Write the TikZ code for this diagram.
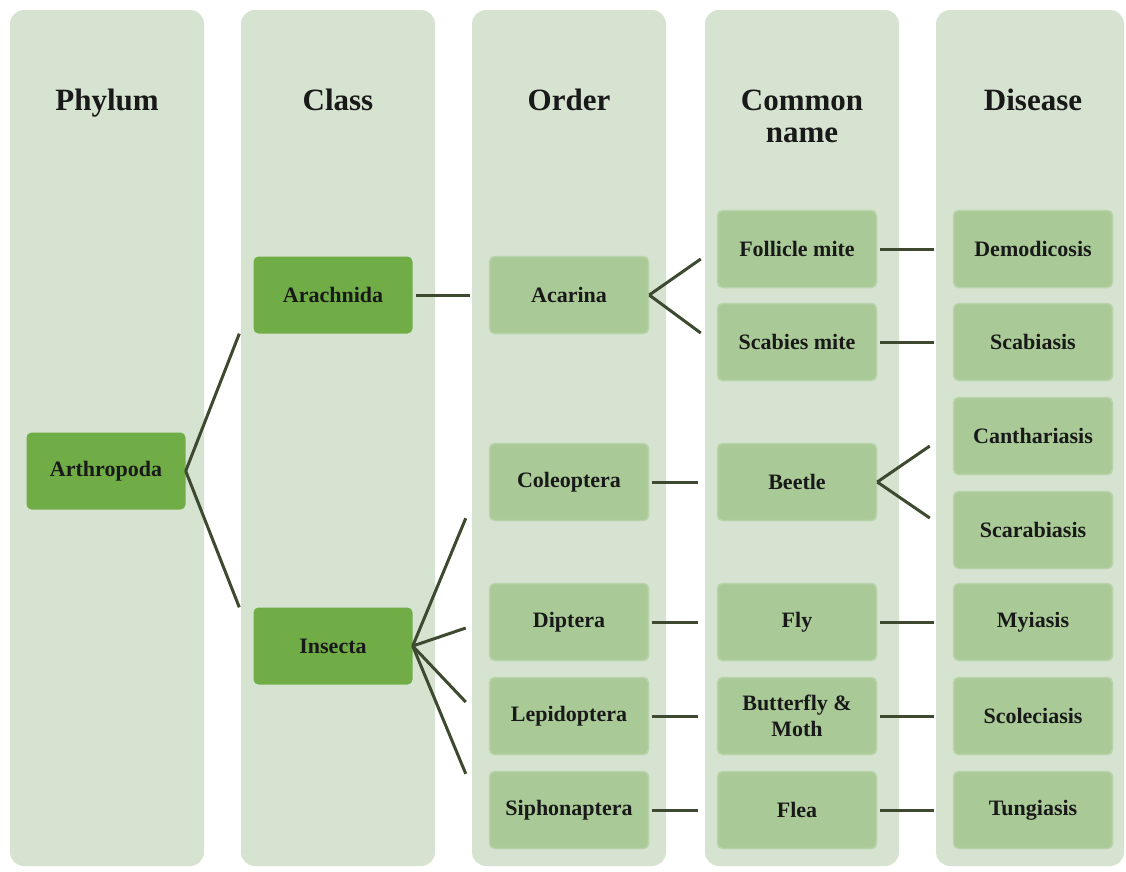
\documentclass[tikz,border=0pt]{standalone}
\usepackage{fontspec}
\setmainfont{Liberation Serif}
\usepackage{tikz}
\usetikzlibrary{positioning}

\definecolor{colbg}{HTML}{D6E3D0}
\definecolor{darkleaf}{HTML}{70AD47}
\definecolor{paleleaf}{HTML}{A9CA97}
\definecolor{paleedge}{HTML}{B9D3AB}
\definecolor{stem}{HTML}{3D4A30}

\begin{document}
\begin{tikzpicture}[
    x=1pt, y=-1pt,
    column/.style={rectangle, fill=colbg, rounded corners=14pt, minimum width=194pt, minimum height=856pt, inner sep=0pt},
    header/.style={font=\fontsize{31}{32}\selectfont\bfseries, text=black!90, align=center},
    taxon/.style={rectangle, fill=darkleaf, rounded corners=5pt, minimum width=159pt, minimum height=77pt, inner sep=2pt, font=\fontsize{22}{26}\selectfont\bfseries, text=black!90, align=center},
    leaf/.style={taxon, fill=paleleaf, draw=paleedge, line width=1.5pt},
    link/.style={draw=stem, line width=3pt},
    pair/.style={link, shorten <=3pt, shorten >=19pt}
]

% Canvas
\useasboundingbox[fill=white] (0,0) rectangle (1126,871);

% Column backgrounds
\node[column] (col_phylum)  at (107,438)  {};
\node[column] (col_class)   at (338,438)  {};
\node[column] (col_order)   at (569,438)  {};
\node[column] (col_common)  at (802,438)  {};
\node[column, minimum width=188pt] (col_disease) at (1030,438) {};

% Column headers (single lines share one baseline)
\node[header, anchor=base] (h_phylum)  at (107,110)  {Phylum};
\node[header, anchor=base] (h_class)   at (338,110)  {Class};
\node[header, anchor=base] (h_order)   at (569,110)  {Order};
\node[header] (h_common)  at (802,116)  {Common\\name};
\node[header, anchor=base] (h_disease) at (1033,110) {Disease};

% Phylum and classes
\node[taxon] (arthropoda) at (106,471) {Arthropoda};
\node[taxon] (arachnida)  at (333,295) {Arachnida};
\node[taxon] (insecta)    at (333,646) {Insecta};

% Orders
\node[leaf] (acarina)      at (569,295) {Acarina};
\node[leaf] (coleoptera)   at (569,482) {Coleoptera};
\node[leaf] (diptera)      at (569,622) {Diptera};
\node[leaf] (lepidoptera)  at (569,716) {Lepidoptera};
\node[leaf] (siphonaptera) at (569,810) {Siphonaptera};

% Common names
\node[leaf] (follicle)  at (797,249) {Follicle mite};
\node[leaf] (scabies)   at (797,342) {Scabies mite};
\node[leaf] (beetle)    at (797,482) {Beetle};
\node[leaf] (fly)       at (797,622) {Fly};
\node[leaf] (butterfly) at (797,716) {Butterfly \&\\Moth};
\node[leaf] (flea)      at (797,810) {Flea};

% Diseases
\node[leaf] (demodicosis)  at (1033,249) {Demodicosis};
\node[leaf] (scabiasis)    at (1033,342) {Scabiasis};
\node[leaf] (canthariasis) at (1033,436) {Canthariasis};
\node[leaf] (scarabiasis)  at (1033,530) {Scarabiasis};
\node[leaf] (myiasis)      at (1033,622) {Myiasis};
\node[leaf] (scoleciasis)  at (1033,716) {Scoleciasis};
\node[leaf] (tungiasis)    at (1033,810) {Tungiasis};

% Fan - Arthropoda
\draw[link] (arthropoda.east) -- ([xshift=-14pt]arachnida.south west);
\draw[link] (arthropoda.east) -- ([xshift=-14pt]insecta.north west);

% Fan - Insecta
\draw[link] (insecta.east) -- ([xshift=-23pt, yshift=3pt]coleoptera.south west);
\draw[link] (insecta.east) -- ([xshift=-23pt, yshift=-6pt]diptera.west);
\draw[link] (insecta.east) -- ([xshift=-23pt, yshift=14pt]lepidoptera.west);
\draw[link] (insecta.east) -- ([xshift=-23pt, yshift=-3pt]siphonaptera.north west);

% Fan - Acarina and Beetle
\draw[link] (acarina.east) -- ([xshift=-16pt, yshift=-10pt]follicle.west);
\draw[link] (acarina.east) -- ([xshift=-16pt, yshift=9pt]scabies.west);
\draw[link] (beetle.east) -- ([xshift=-23pt, yshift=-10pt]canthariasis.west);
\draw[link] (beetle.east) -- ([xshift=-23pt, yshift=12pt]scarabiasis.west);

% Straight links
\draw[pair] (arachnida) -- (acarina);
\draw[pair] (follicle) -- (demodicosis);
\draw[pair] (scabies) -- (scabiasis);
\draw[pair] (coleoptera) -- (beetle);
\draw[pair] (diptera) -- (fly);
\draw[pair] (fly) -- (myiasis);
\draw[pair] (lepidoptera) -- (butterfly);
\draw[pair] (butterfly) -- (scoleciasis);
\draw[pair] (siphonaptera) -- (flea);
\draw[pair] (flea) -- (tungiasis);

\end{tikzpicture}
\end{document}
